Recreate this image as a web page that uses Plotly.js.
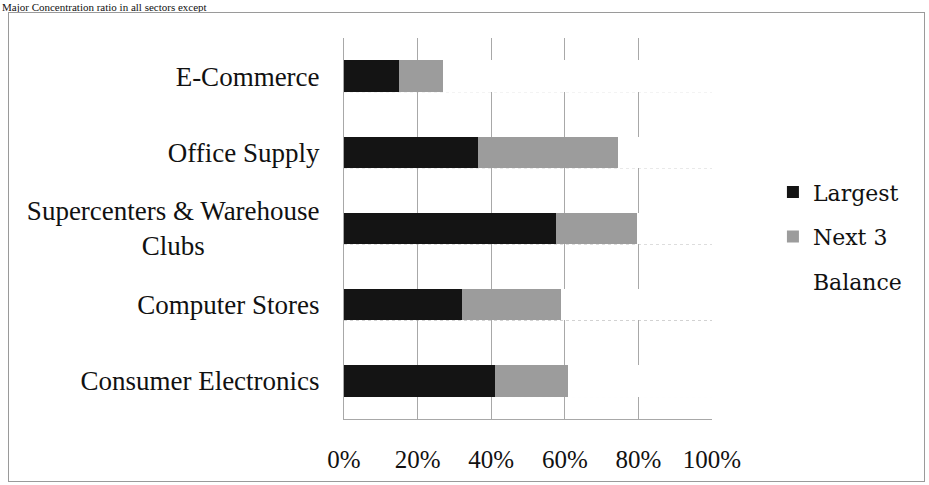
<!DOCTYPE html>
<html>
<head>
<meta charset="utf-8">
<script src="https://cdn.plot.ly/plotly-3.0.1.min.js"></script>
<style>
  html, body { margin: 0; padding: 0; background: #fff; }
  #wrap { position: relative; width: 929px; height: 485px; overflow: hidden; }
  #chart { width: 929px; height: 485px; }
  #frame { position: absolute; left: 8px; top: 12px; width: 917px; height: 470px;
           border: 1.5px solid #9a9a9a; pointer-events: none; box-sizing: border-box; }
</style>
</head>
<body>
<div id="wrap">
  <div id="chart"></div>
  <div id="frame"></div>
</div>
<script>
// Categories, top to bottom
const categories = [
  "E-Commerce",
  "Office Supply",
  "Supercenters & Warehouse<br>Clubs" + "\u00a0".repeat(17),
  "Computer Stores",
  "Consumer Electronics"
];
// Shares (%)
const largest = [15, 36.5, 57.5, 32, 41];
const next3   = [12, 38, 22, 27, 20];
const balance = [73, 25.5, 20.5, 41, 39];

const xTickVals = [0, 20, 40, 60, 80, 100];
const xTickText = ["0%", "20%", "40%", "60%", "80%", "100%"];

const titleText = "Major Concentration ratio in all sectors except";

const yIdx = categories.map((c, i) => i);
const barWidth = 0.41;

const traces = [
  { name: "Largest", y: yIdx, x: largest, type: "bar", orientation: "h",
    marker: { color: "#141414" }, width: barWidth, legendgroup: "a" },
  { name: "Next 3", y: yIdx, x: next3, type: "bar", orientation: "h",
    marker: { color: "#9c9c9c" }, width: barWidth, legendgroup: "b" },
  { name: "Balance", y: yIdx, x: balance, type: "bar", orientation: "h",
    marker: { color: "#ffffff" }, width: barWidth, legendgroup: "c" }
];

// light dotted lines along the bottom of each bar band
const shapes = yIdx.map(i => ({
  type: "line", xref: "paper", x0: 0, x1: 1, yref: "y",
  y0: i + barWidth / 2, y1: i + barWidth / 2,
  line: { color: "#c8c8c8", width: 1, dash: "dot" }, layer: "below"
}));

const layout = {
  width: 929, height: 485,
  margin: { l: 344, r: 217, t: 38, b: 66 },
  paper_bgcolor: "#ffffff", plot_bgcolor: "#ffffff",
  barmode: "stack",
  showlegend: true,
  font: { family: "Liberation Serif, Times New Roman, serif", color: "#111" },
  xaxis: {
    range: [0, 100], tickvals: xTickVals, ticktext: xTickText,
    showgrid: true, gridcolor: "#a8a8a8", gridwidth: 1,
    zeroline: false, showline: true, linecolor: "#a8a8a8", linewidth: 1,
    ticks: "", ticklabelstandoff: 18,
    tickfont: { family: "Liberation Serif, Times New Roman, serif", size: 25, color: "#111" },
    fixedrange: true
  },
  yaxis: {
    range: [4.5, -0.5],
    tickvals: yIdx, ticktext: categories,
    showgrid: false, zeroline: false, showline: true, linecolor: "#a8a8a8", linewidth: 1,
    ticks: "", ticklabelstandoff: 18,
    tickfont: { family: "Liberation Serif, Times New Roman, serif", size: 27, color: "#111" },
    fixedrange: true
  },
  legend: {
    xref: "container", yref: "container",
    x: 0.832, y: 0.647, xanchor: "left", yanchor: "top",
    traceorder: "grouped", tracegroupgap: 13,
    font: { family: "DejaVu Serif, serif", size: 22, color: "#111" },
    bgcolor: "rgba(0,0,0,0)", borderwidth: 0,
    itemclick: false, itemdoubleclick: false
  },
  shapes: shapes,
  annotations: [{
    text: titleText, xref: "paper", yref: "paper",
    x: -0.932, y: 1.0995, xanchor: "left", yanchor: "top",
    showarrow: false, borderpad: 0,
    font: { family: "Liberation Serif, Times New Roman, serif", size: 11, color: "#111" }
  }]
};

Plotly.newPlot("chart", traces, layout, { displayModeBar: false, staticPlot: true });
</script>
</body>
</html>
